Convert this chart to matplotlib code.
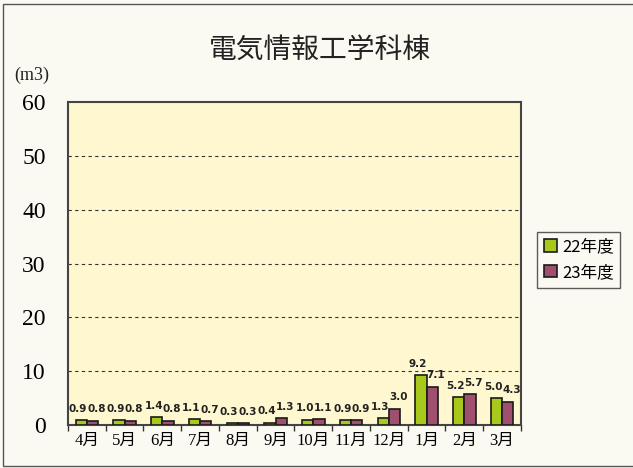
import numpy as np
import matplotlib
matplotlib.use("Agg")
import matplotlib.pyplot as plt
from matplotlib.patches import Rectangle

plt.rcParams['font.family'] = ['Noto Sans CJK JP', 'DejaVu Sans']

months = ["4月", "5月", "6月", "7月", "8月", "9月", "10月", "11月", "12月", "1月", "2月", "3月"]
fy22 = [0.9, 0.9, 1.4, 1.1, 0.3, 0.4, 1.0, 0.9, 1.3, 9.2, 5.2, 5.0]
fy23 = [0.8, 0.8, 0.8, 0.7, 0.3, 1.3, 1.1, 0.9, 3.0, 7.1, 5.7, 4.3]
series_names = ["22年度", "23年度"]
title = "電気情報工学科棟"
unit = "(m3)"

fig = plt.figure(figsize=(6.33, 4.68), dpi=100, facecolor="#fbfaf2")
fig.patches.append(Rectangle((0.005, 0.004), 1.2, 0.988, transform=fig.transFigure,
                             fill=False, edgecolor="#555555", linewidth=1.0))

ax = fig.add_axes([0.1074, 0.0919, 0.7156, 0.6901])
ax.set_facecolor("#fff7cf")

x = np.arange(len(months))
w = 0.3
ax.bar(x - w / 2, fy22, w, color="#a8c81c", edgecolor="#1a1a1a", linewidth=1.2, label=series_names[0], zorder=3)
ax.bar(x + w / 2, fy23, w, color="#a04f6e", edgecolor="#1a1a1a", linewidth=1.2, label=series_names[1], zorder=3)

# value labels sit close together, as in the original
for i in range(len(months)):
    ax.text(x[i] - w / 2 - 0.08, fy22[i] + 1.2, f"{fy22[i]:.1f}", ha="center", va="bottom",
            fontsize=7.5, fontweight="bold", family="DejaVu Sans", color="#222222", zorder=4)
    ax.text(x[i] + w / 2 + 0.1, fy23[i] + 1.2, f"{fy23[i]:.1f}", ha="center", va="bottom",
            fontsize=7.5, fontweight="bold", family="DejaVu Sans", color="#222222", zorder=4)

ax.set_xlim(-0.5, len(months) - 0.5)
ax.set_ylim(0, 60)
ax.set_yticks(np.arange(0, 61, 10))
ax.set_yticklabels([str(v) for v in range(0, 61, 10)], family="Liberation Serif", fontsize=17)
ax.tick_params(axis="y", length=0, pad=16)
for v in range(10, 60, 10):
    ax.axhline(v, color="#333333", linestyle=(0, (3, 3)), linewidth=0.8, zorder=1)

ax.set_xticks(x)
ax.set_xticklabels(months, fontsize=12, family=["Liberation Serif", "Noto Sans CJK JP"])
ax.tick_params(axis="x", length=0, pad=6)
ax.set_xticks(np.arange(-0.5, len(months), 1), minor=True)
ax.tick_params(axis="x", which="minor", length=4, width=1, color="#333333")

for s in ax.spines.values():
    s.set_color("#444444")
    s.set_linewidth(1.5)

fig.text(0.505, 0.893, title, ha="center", va="center", fontsize=20, color="#222222")
fig.text(0.022, 0.838, unit, ha="left", va="center", fontsize=13, family="Liberation Serif", color="#222222")

fig.legend(loc="center left", bbox_to_anchor=(0.835, 0.445), frameon=True, fancybox=False,
           edgecolor="#333333", facecolor="#fbfaf2", fontsize=12, handlelength=0.8,
           handleheight=0.8, handletextpad=0.3, borderpad=0.4, labelspacing=0.5)

fig.savefig("out.png", dpi=100, facecolor=fig.get_facecolor())
